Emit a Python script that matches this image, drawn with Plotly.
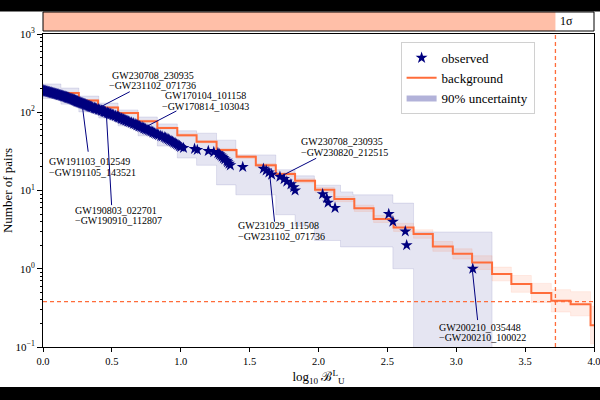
import math
import plotly.graph_objects as go

# ---------------- data ----------------
# observed pairs: log10 B of each pair, sorted from largest; the plotted count is the rank
obs_x = [3.12, 2.64, 2.63, 2.54, 2.51, 2.12, 2.07, 2.06, 2.03, 1.83,
         1.82, 1.80, 1.77, 1.75, 1.72, 1.66, 1.64, 1.62, 1.60, 1.45,
         1.36, 1.35, 1.34, 1.335, 1.32, 1.31, 1.30, 1.29, 1.28, 1.27,
         1.24, 1.20, 1.12, 1.10, 1.02,
         1.00, 0.99, 0.98, 0.97, 0.96, 0.95,
         0.94, 0.93, 0.92, 0.91, 0.90, 0.89, 0.88, 0.865, 0.855, 0.84, 0.83,
         0.82, 0.81, 0.80, 0.795, 0.785, 0.775, 0.765, 0.755, 0.745, 0.735, 0.73, 0.72, 0.71,
         0.70, 0.695, 0.685, 0.68, 0.67, 0.66, 0.655, 0.645, 0.64, 0.63, 0.62, 0.615, 0.605, 0.60, 0.59,
         0.585, 0.575, 0.57, 0.565, 0.555, 0.55, 0.545, 0.54, 0.53, 0.525, 0.515, 0.51, 0.505,
         0.495, 0.49, 0.485, 0.475, 0.47,
         0.465, 0.455, 0.45, 0.445, 0.44, 0.43, 0.425, 0.42, 0.41, 0.405, 0.40, 0.39, 0.385,
         0.38, 0.375, 0.37, 0.36, 0.355, 0.35,
         0.345, 0.34, 0.335, 0.33, 0.325, 0.32, 0.315, 0.31, 0.305, 0.30, 0.295, 0.29, 0.285,
         0.28, 0.275, 0.27, 0.265, 0.26, 0.255, 0.25, 0.248, 0.245, 0.24, 0.236, 0.232, 0.228, 0.225,
         0.22, 0.215, 0.21, 0.205, 0.20, 0.195, 0.19, 0.186, 0.182, 0.178, 0.174, 0.17, 0.165,
         0.16, 0.155, 0.15, 0.145, 0.14, 0.135, 0.13, 0.125, 0.12, 0.115, 0.11, 0.105, 0.10,
         0.095, 0.09, 0.085, 0.08, 0.075, 0.07, 0.065, 0.06, 0.055, 0.05, 0.045, 0.04, 0.035,
         0.03, 0.025, 0.02, 0.015, 0.01, 0.005, 0.0]
obs_count = list(range(1, len(obs_x) + 1))

# background expectation (step function) and its band
bg_edges = [0.0, 0.26, 0.40, 0.545, 0.69, 0.83, 0.975, 1.115, 1.26, 1.405, 1.545,
            1.69, 1.83, 1.975, 2.115, 2.26, 2.40, 2.545, 2.69, 2.83, 2.975,
            3.115, 3.26, 3.40, 3.545, 3.69, 3.83, 3.975, 4.0]
bg_values = [176, 141, 115, 98, 77, 63, 51, 42, 33, 27, 21, 16.2, 13.3, 10.2, 7.8,
             5.95, 4.33, 3.37, 2.79, 1.93, 1.55, 1.20, 0.855, 0.64, 0.49, 0.39, 0.353, 0.19]
bg_lo = [172, 137, 112, 95, 74.5, 61, 49, 40.5, 31.5, 25.7, 19.9, 15.2, 12.5, 9.5, 7.2,
         5.4, 3.9, 3.0, 2.45, 1.67, 1.33, 0.98, 0.70, 0.50, 0.37, 0.28, 0.25, 0.11]
bg_hi = [180, 145, 118, 101, 79.5, 65, 53, 43.5, 34.5, 28.3, 22.1, 17.2, 14.1, 10.9, 8.4,
         6.5, 4.8, 3.8, 3.15, 2.23, 1.80, 1.47, 1.05, 0.82, 0.65, 0.54, 0.51, 0.33]

# 90% uncertainty band on the observed counts
unc_edges = [0.0, 0.13, 0.26, 0.405, 0.545, 0.69, 0.83, 0.975, 1.115, 1.26, 1.40,
             1.69, 1.83, 1.97, 2.16, 2.25, 2.54, 2.69, 3.26]
unc_lo = [150, 127, 101, 84.5, 67, 50, 37, 26, 21, 11.8, 8.8, 4.9, 3.5, 2.3, 1.9, 1.9, 1.0, 0.05]
unc_hi = [230, 204, 161, 131, 107, 87, 71, 58, 54, 44, 28.5, 18.4, 15.4, 11.7, 9.6, 8.8, 6.9, 2.95]

sigma_x = 3.72        # 1 sigma threshold on log10 B
sigma_count = 0.38    # background count at threshold

x_ticks = [0.0, 0.5, 1.0, 1.5, 2.0, 2.5, 3.0, 3.5, 4.0]
y_tickvals = [0.1, 1, 10, 100, 1000]
y_ticktext = ["10<sup>\u22121</sup>", "10<sup>0</sup>", "10<sup>1</sup>",
              "10<sup>2</sup>", "10<sup>3</sup>"]

# annotations: two text lines, text anchor, alignment, line start, target point
ann_line1 = ["GW230708_230935", "GW170104_101158", "GW191103_012549", "GW190803_022701",
             "GW230708_230935", "GW231029_111508", "GW200210_035448"]
ann_line2 = ["\u2212GW231102_071736", "\u2212GW170814_103043", "\u2212GW191105_143521",
             "\u2212GW190910_112807", "\u2212GW230820_212515", "\u2212GW231102_071736",
             "\u2212GW200210_100022"]
ann_text_x = [0.797, 1.181, 0.029, 0.217, 1.855, 1.399, 2.862]
ann_text_y1 = [299, 166, 23.8, 5.63, 41.7, 3.52, 0.180]
ann_text_y2 = [220, 120, 17.2, 4.08, 30.6, 2.55, 0.132]
ann_anchor = ["center", "center", "left", "left", "left", "left", "left"]
ann_from = [(0.63, 183), (0.969, 104), (0.328, 31.3), (0.498, 6.5), (1.983, 25.8),
            (1.681, 3.99), (3.155, 0.221)]
ann_to = [(0.413, 116), (0.727, 62.4), (0.288, 112), (0.461, 88), (1.73, 15.3),
          (1.645, 16.6), (3.116, 1.0)]

# ---------------- styling ----------------
FONT = "Liberation Serif, Times New Roman, DejaVu Serif, serif"
NAVY = "#00007f"
ORANGE = "#ff6c3a"
X_MIN, X_MAX = 0.0, 4.0


def step_polygon(edges, lo, hi):
    xs, ys = [], []
    for i in range(len(hi)):
        xs += [edges[i], edges[i + 1]]
        ys += [hi[i], hi[i]]
    for i in reversed(range(len(lo))):
        xs += [edges[i + 1], edges[i]]
        ys += [lo[i], lo[i]]
    xs.append(xs[0])
    ys.append(ys[0])
    return xs, ys


fig = go.Figure()

ux, uy = step_polygon(unc_edges, unc_lo, unc_hi)
fig.add_trace(go.Scatter(x=ux, y=uy, fill="toself", mode="lines",
                         fillcolor="rgba(0,0,128,0.10)",
                         line=dict(color="rgba(0,0,128,0.10)", width=1),
                         showlegend=False, hoverinfo="skip"))

bx, by = step_polygon(bg_edges, bg_lo, bg_hi)
fig.add_trace(go.Scatter(x=bx, y=by, fill="toself", mode="lines",
                         fillcolor="rgba(255,108,58,0.12)",
                         line=dict(color="rgba(255,108,58,0.10)", width=1),
                         showlegend=False, hoverinfo="skip"))

fig.add_trace(go.Scatter(x=bg_edges, y=bg_values + [bg_values[-1]], mode="lines",
                         line=dict(color=ORANGE, width=2, shape="hv"),
                         name="background", legendrank=2))

fig.add_trace(go.Scatter(x=[X_MIN, X_MAX], y=[sigma_count, sigma_count], mode="lines",
                         line=dict(color=ORANGE, width=1.3, dash="4px,3px"),
                         showlegend=False, hoverinfo="skip"))
fig.add_trace(go.Scatter(x=[sigma_x, sigma_x], y=[y_tickvals[0], y_tickvals[-1]], mode="lines",
                         line=dict(color=ORANGE, width=1.3, dash="4px,3px"),
                         showlegend=False, hoverinfo="skip"))

fig.add_trace(go.Scatter(x=obs_x, y=obs_count, mode="markers",
                         marker=dict(symbol="star", size=9, color=NAVY, line=dict(width=0)),
                         name="observed", legendrank=1))

fig.add_trace(go.Scatter(x=[None], y=[None], mode="lines", fill="toself",
                         fillcolor="rgba(0,0,128,0.30)", line=dict(width=0),
                         name="90% uncertainty", legendrank=3))

for (x0, y0), (x1, y1) in zip(ann_from, ann_to):
    fig.add_trace(go.Scatter(x=[x0, x1], y=[y0, y1], mode="lines",
                             line=dict(color=NAVY, width=1),
                             showlegend=False, hoverinfo="skip"))

annotations = []
for t1, t2, tx, ty1, ty2, anc in zip(ann_line1, ann_line2, ann_text_x, ann_text_y1,
                                     ann_text_y2, ann_anchor):
    for t, ty in ((t1, ty1), (t2, ty2)):
        annotations.append(dict(x=tx, y=math.log10(ty), xref="x", yref="y", text=t,
                                showarrow=False, xanchor=anc, yanchor="middle",
                                font=dict(family=FONT, size=10, color="black")))


def xpaper(v):
    return (v - X_MIN) / (X_MAX - X_MIN)


PLOT_H = 313.0
top_y0 = 1 + 3 / PLOT_H
top_y1 = 1 + 22 / PLOT_H
shapes = [
    dict(type="rect", xref="paper", yref="paper", x0=0, x1=xpaper(sigma_x),
         y0=top_y0, y1=top_y1, fillcolor="#ffbfa8", line=dict(width=0), layer="above"),
    dict(type="rect", xref="paper", yref="paper", x0=0, x1=1,
         y0=top_y0, y1=top_y1, fillcolor="rgba(0,0,0,0)",
         line=dict(color="black", width=1), layer="above"),
    # letterbox bars of the reference picture
    dict(type="rect", xref="paper", yref="paper", x0=-0.2, x1=1.2,
         y0=1 + 22.5 / PLOT_H, y1=1.2, fillcolor="black", line=dict(width=0), layer="above"),
    dict(type="rect", xref="paper", yref="paper", x0=-0.2, x1=1.2,
         y0=-0.3, y1=-40 / PLOT_H, fillcolor="black", line=dict(width=0), layer="above"),
]
annotations.append(dict(x=xpaper(sigma_x) + 0.004, y=1 + 12.5 / PLOT_H, xref="paper",
                        yref="paper", text="1\u03c3", showarrow=False, xanchor="left",
                        yanchor="middle", font=dict(family=FONT, size=12, color="black")))

fig.update_layout(
    width=600, height=400,
    margin=dict(l=43, r=6, t=34, b=53, autoexpand=False),
    paper_bgcolor="white", plot_bgcolor="white",
    font=dict(family=FONT, size=11, color="black"),
    showlegend=True,
    legend=dict(x=0.649, y=0.975, xanchor="left", yanchor="top",
                bgcolor="white", bordercolor="#d0d0d0", borderwidth=1,
                font=dict(family=FONT, size=13, color="black"),
                itemwidth=30, tracegroupgap=0),
    shapes=shapes,
    annotations=annotations,
)
fig.update_xaxes(range=[X_MIN, X_MAX], tickvals=x_ticks, tickformat=".1f",
                 ticklabeloverflow="allow", automargin=False,
                 tickfont=dict(family=FONT, size=10.5),
                 showline=True, linecolor="black", linewidth=1, mirror=True,
                 ticks="outside", ticklen=4, tickcolor="black", showgrid=False, zeroline=False,
                 title=dict(text="log<sub>10</sub> \u212c<sup>L</sup><sub>U</sub>",
                            font=dict(family=FONT, size=13), standoff=6))
fig.update_yaxes(type="log", range=[-1, 3], tickvals=y_tickvals, ticktext=y_ticktext,
                 ticklabeloverflow="allow", automargin=False,
                 showline=True, linecolor="black", linewidth=1, mirror=True,
                 ticks="outside", ticklen=5, tickcolor="black", showgrid=False, zeroline=False,
                 minor=dict(ticks="outside", ticklen=2.5, tickcolor="black", dtick="D1",
                            showgrid=False),
                 title=dict(text="Number of pairs", font=dict(family=FONT, size=13), standoff=1))

fig.write_html("out.html")
